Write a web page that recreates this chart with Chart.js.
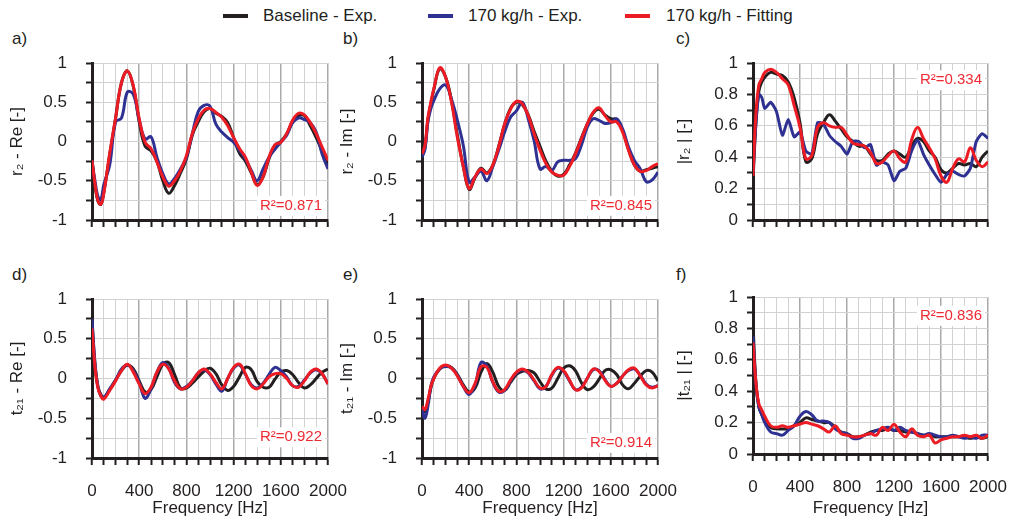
<!DOCTYPE html>
<html><head><meta charset="utf-8">
<script src="https://cdn.jsdelivr.net/npm/chart.js@4.4.1/dist/chart.umd.min.js"></script>
<style>
html,body{margin:0;padding:0;background:#fff;}
body{width:1011px;height:524px;position:relative;overflow:hidden;font-family:'Liberation Sans',Arial,sans-serif;color:#231f20;}
.box{position:absolute;}
.lbl{position:absolute;font-size:17px;line-height:20px;white-space:nowrap;}
.sw{position:absolute;height:4px;width:25px;top:14px;}
</style></head><body>
<div class="sw" style="left:223px;background:#231f20"></div><div class="lbl" style="left:263px;top:6px">Baseline - Exp.</div>
<div class="sw" style="left:428px;background:#2e3192"></div><div class="lbl" style="left:468px;top:6px">170 kg/h - Exp.</div>
<div class="sw" style="left:625px;background:#ed1c24"></div><div class="lbl" style="left:666px;top:6px">170 kg/h - Fitting</div>
<div class="lbl" style="left:12px;top:29px">a)</div>
<div class="lbl" style="left:343px;top:29px">b)</div>
<div class="lbl" style="left:676px;top:29px">c)</div>
<div class="lbl" style="left:12px;top:265px">d)</div>
<div class="lbl" style="left:343px;top:265px">e)</div>
<div class="lbl" style="left:676px;top:265px">f)</div>
<script>
const freq = [0,25,50,75,100,150,200,250,300,350,400,450,500,550,600,650,700,750,800,850,900,950,1000,1050,1100,1150,1200,1250,1300,1350,1400,1450,1500,1550,1600,1650,1700,1750,1800,1850,1900,1950,2000];

// a) r2 - Re
const aBase = [-0.24,-0.55,-0.76,-0.80,-0.65, -0.17,0.30,0.75,0.90,0.70,0.25,-0.06,-0.12,-0.25,-0.50, -0.66,-0.56,-0.40,-0.22,0.08,0.25,0.38,0.42,0.36,0.32, 0.24,0.05,-0.15,-0.25,-0.40,-0.55,-0.45,-0.22,-0.05,0.00, 0.10,0.25,0.33,0.33,0.20,0.05,-0.12,-0.30];
const aExp  = [-0.24,-0.50,-0.70,-0.74,-0.55, -0.30,0.25,0.30,0.63,0.60,0.28,0.03,0.06,-0.20,-0.41, -0.54,-0.47,-0.35,-0.20,0.10,0.38,0.46,0.45,0.22,0.12, 0.05,-0.01,-0.11,-0.22,-0.37,-0.50,-0.35,-0.20,-0.10,-0.01, 0.08,0.24,0.30,0.28,0.24,0.12,-0.16,-0.35];
const aFit  = [-0.24,-0.54,-0.75,-0.80,-0.66, -0.15,0.30,0.75,0.90,0.71,0.29,-0.01,-0.09,-0.26,-0.45, -0.57,-0.50,-0.37,-0.18,0.10,0.29,0.40,0.42,0.37,0.31, 0.20,0.05,-0.09,-0.20,-0.39,-0.56,-0.45,-0.20,-0.04,-0.01, 0.10,0.27,0.36,0.34,0.24,0.10,-0.07,-0.24];

// b) r2 - Im
const bBase = [-0.18,-0.08,0.28,0.48,0.66, 0.93,0.82,0.52,0.08,-0.32,-0.61,-0.46,-0.34,-0.40,-0.30, -0.06,0.22,0.42,0.50,0.47,0.34,0.13,-0.06,-0.25,-0.38, -0.44,-0.42,-0.30,-0.15,0.04,0.22,0.36,0.41,0.34,0.29, 0.28,0.14,-0.10,-0.30,-0.38,-0.36,-0.34,-0.32];
const bExp  = [-0.20,-0.10,0.25,0.42,0.52, 0.67,0.72,0.54,0.27,-0.05,-0.52,-0.45,-0.38,-0.50,-0.32, -0.11,0.12,0.31,0.39,0.50,0.29,0.01,-0.35,-0.32,-0.37, -0.26,-0.24,-0.24,-0.22,-0.05,0.18,0.29,0.27,0.23,0.24, 0.29,0.16,-0.07,-0.24,-0.35,-0.51,-0.49,-0.39];
const bFit  = [-0.16,-0.05,0.30,0.50,0.67, 0.94,0.82,0.50,0.05,-0.32,-0.60,-0.45,-0.35,-0.41,-0.30, -0.07,0.22,0.41,0.51,0.48,0.33,0.10,-0.11,-0.28,-0.39, -0.43,-0.43,-0.32,-0.16,0.03,0.22,0.37,0.43,0.33,0.25, 0.25,0.12,-0.11,-0.30,-0.38,-0.37,-0.32,-0.28];

// c) |r2|
const cBase = [0.25,0.62,0.82,0.88,0.91, 0.94,0.93,0.92,0.88,0.78,0.62,0.37,0.39,0.55,0.62, 0.67,0.63,0.58,0.53,0.50,0.47,0.47,0.42,0.38,0.38, 0.42,0.44,0.42,0.40,0.47,0.52,0.50,0.44,0.40,0.32, 0.30,0.33,0.36,0.35,0.36,0.34,0.40,0.44];
const cExp  = [0.30,0.62,0.80,0.78,0.71, 0.75,0.69,0.54,0.64,0.53,0.56,0.44,0.42,0.62,0.61, 0.54,0.50,0.47,0.42,0.50,0.50,0.46,0.48,0.35,0.37, 0.35,0.25,0.31,0.33,0.44,0.51,0.42,0.35,0.29,0.24, 0.29,0.31,0.29,0.28,0.33,0.50,0.55,0.52];
const cFit  = [0.28,0.68,0.86,0.90,0.94, 0.96,0.94,0.90,0.86,0.73,0.59,0.39,0.41,0.59,0.62, 0.60,0.59,0.59,0.54,0.49,0.48,0.47,0.43,0.36,0.37, 0.41,0.44,0.39,0.37,0.51,0.59,0.52,0.46,0.39,0.28, 0.24,0.33,0.39,0.37,0.46,0.38,0.34,0.37];

// d) t21 - Re
const dBase = [0.72,0.18,-0.10,-0.20,-0.24, -0.14,-0.02,0.10,0.17,0.12,-0.03,-0.17,-0.14,0.02,0.18, 0.20,0.05,-0.12,-0.12,-0.06,0.02,0.09,0.13,0.06,-0.08, -0.15,-0.10,0.02,0.14,0.11,-0.04,-0.11,-0.11,-0.01,0.08, 0.10,0.05,-0.05,-0.12,-0.08,0.00,0.08,0.12];
const dExp  = [0.75,0.20,-0.10,-0.22,-0.24, -0.13,-0.02,0.12,0.17,0.10,-0.05,-0.25,-0.13,0.08,0.20, 0.13,-0.05,-0.13,-0.10,-0.03,0.07,0.11,0.05,-0.07,-0.16, 0.00,0.13,0.17,0.05,-0.08,-0.12,-0.06,0.05,0.14,0.10, 0.02,-0.09,-0.10,-0.02,0.07,0.11,0.06,-0.07];
const dFit  = [0.63,0.15,-0.12,-0.22,-0.26, -0.15,-0.03,0.10,0.18,0.08,-0.07,-0.19,-0.11,0.08,0.18, 0.12,-0.03,-0.13,-0.11,-0.03,0.07,0.12,0.06,-0.05,-0.13, 0.00,0.14,0.18,0.06,-0.09,-0.13,-0.07,0.02,0.06,0.06, 0.00,-0.09,-0.11,-0.03,0.08,0.12,0.06,-0.07];

// e) t21 - Im
const eBase = [-0.36,-0.42,-0.30,-0.12,0.00, 0.12,0.16,0.14,0.05,-0.08,-0.17,-0.12,0.08,0.19,0.08, -0.10,-0.15,-0.05,0.05,0.09,0.10,0.07,-0.04,-0.13,-0.12, 0.00,0.13,0.16,0.10,-0.05,-0.14,-0.11,-0.01,0.10,0.11, 0.05,-0.08,-0.13,-0.06,0.03,0.10,0.08,-0.03];
const eExp  = [-0.38,-0.50,-0.35,-0.10,0.02, 0.12,0.15,0.13,0.04,-0.10,-0.20,-0.08,0.20,0.16,-0.05, -0.17,-0.15,-0.03,0.07,0.11,0.07,-0.03,-0.13,-0.10,0.04, 0.13,0.09,-0.03,-0.14,-0.11,0.00,0.11,0.10,-0.01,-0.10, -0.06,0.03,0.10,0.12,0.04,-0.07,-0.11,-0.09];
const eFit  = [-0.35,-0.39,-0.27,-0.10,0.00, 0.13,0.17,0.13,0.03,-0.10,-0.18,-0.06,0.15,0.14,-0.04, -0.16,-0.14,-0.02,0.08,0.12,0.08,-0.02,-0.12,-0.10,0.05, 0.14,0.10,-0.02,-0.14,-0.12,0.00,0.12,0.09,-0.02,-0.10, -0.06,0.03,0.11,0.13,0.03,-0.08,-0.12,-0.09];

// f) |t21|
const fBase = [0.83,0.45,0.30,0.25,0.22, 0.17,0.16,0.16,0.16,0.18,0.20,0.23,0.22,0.21,0.20, 0.20,0.17,0.14,0.13,0.11,0.11,0.12,0.14,0.15,0.15, 0.16,0.15,0.15,0.14,0.14,0.13,0.12,0.12,0.11,0.11, 0.11,0.11,0.11,0.11,0.10,0.11,0.10,0.11];
const fExp  = [0.75,0.45,0.30,0.25,0.20, 0.14,0.13,0.12,0.15,0.18,0.24,0.27,0.25,0.21,0.21, 0.20,0.16,0.14,0.13,0.10,0.10,0.12,0.13,0.15,0.16, 0.17,0.15,0.17,0.15,0.14,0.13,0.12,0.13,0.12,0.11, 0.11,0.12,0.11,0.10,0.11,0.10,0.12,0.12];
const fFit  = [0.71,0.45,0.32,0.28,0.24, 0.18,0.17,0.18,0.17,0.18,0.19,0.20,0.19,0.18,0.16, 0.14,0.18,0.13,0.12,0.11,0.11,0.12,0.13,0.12,0.17, 0.15,0.19,0.14,0.11,0.16,0.12,0.11,0.12,0.07,0.09, 0.10,0.11,0.11,0.12,0.11,0.12,0.10,0.12];

const r2Values = ['0.871','0.845','0.334','0.922','0.914','0.836'];
const yTitles = ['r\u2082 - Re [-]','r\u2082 - Im [-]','|r\u2082 | [-]','t\u2082\u2081 - Re [-]','t\u2082\u2081 - Im [-]','|t\u2082\u2081 | [-]'];
const xTitle = 'Frequency [Hz]';

const FONT = "'Liberation Sans', Arial, sans-serif";
const TXT = '#231f20', BLACK = '#231f20', BLUE = '#2e3192', RED = '#ed1c24', RTXT = '#ee2a33';
const G1 = '#d2d2d2', G2 = '#aaaaaa';

const r2Plugin = {
  id: 'r2label',
  beforeDatasetsDraw(chart, args, opts) {
    if (!opts.text) return;
    const {ctx, chartArea, scales} = chart;
    ctx.save();
    ctx.font = '15px ' + FONT;
    const w = ctx.measureText(opts.text).width;
    const yy = scales.y.getPixelForValue(opts.at);
    const xr = chartArea.right - 6;
    ctx.fillStyle = '#fff';
    ctx.fillRect(xr - w - 3, yy - 10, w + 6, 20);
    ctx.fillStyle = RTXT; ctx.textAlign = 'right'; ctx.textBaseline = 'middle';
    ctx.fillText(opts.text, xr, yy);
    ctx.restore();
  }
};

const panels = [
  {box:[0,50,345,190],   area:{L:92,T:63,R:328,B:220},  y:[-1,1,0.25], sets:[aBase,aExp,aFit], r2at:-0.82, xl:false, pad:19},
  {box:[330,50,345,190], area:{L:422,T:63,R:658,B:220}, y:[-1,1,0.25], sets:[bBase,bExp,bFit], r2at:-0.82, xl:false, pad:19},
  {box:[667,50,340,190], area:{L:753,T:63,R:988,B:220}, y:[0,1,0.1],   sets:[cBase,cExp,cFit], r2at:0.89,  xl:false, pad:9},
  {box:[0,285,350,239],  area:{L:92,T:299,R:328,B:458}, y:[-1,1,0.25], sets:[dBase,dExp,dFit], r2at:-0.74, xl:true, pad:19},
  {box:[330,285,350,239],area:{L:422,T:299,R:658,B:458},y:[-1,1,0.25], sets:[eBase,eExp,eFit], r2at:-0.81, xl:true, pad:19},
  {box:[667,285,344,239],area:{L:753,T:297,R:988,B:454},y:[0,1,0.1],   sets:[fBase,fExp,fFit], r2at:0.88,  xl:true, pad:9}
];

function pts(arr){ return freq.map((f,i)=>({x:f, y:arr[i]})); }

panels.forEach((p, k) => {
  const [bx,by,bw,bh] = p.box;
  const div = document.createElement('div');
  div.className = 'box';
  div.style.left = bx+'px'; div.style.top = by+'px'; div.style.width = bw+'px'; div.style.height = bh+'px';
  const cv = document.createElement('canvas');
  cv.width = bw; cv.height = bh; cv.style.width = bw+'px'; cv.style.height = bh+'px';
  div.appendChild(cv); document.body.appendChild(div);
  const yW = p.area.L - bx, xH = by + bh - p.area.B;
  const half = p.y[2] === 0.25;
  new Chart(cv, {
    type: 'line',
    data: { datasets: [
      {label:'170 kg/h - Fitting', data:pts(p.sets[2]), borderColor:RED, order:0, borderWidth:3, tension:0.4},
      {label:'170 kg/h - Exp.', data:pts(p.sets[1]), borderColor:BLUE, order:1, borderWidth:3, tension: k===2?0.2:0.4},
      {label:'Baseline - Exp.', data:pts(p.sets[0]), borderColor:BLACK, order:2, borderWidth:3, tension:0.4}
    ]},
    options: {
      responsive:false, animation:false, maintainAspectRatio:false,
      layout:{padding:{top:p.area.T-by, right:bx+bw-p.area.R, left:0, bottom:0}},
      elements:{point:{radius:0}},
      plugins:{legend:{display:false}, tooltip:{enabled:false}, r2label:{text:'R\u00b2=' + r2Values[k], at:p.r2at}},
      scales:{
        x:{type:'linear', min:0, max:2000,
          afterFit(s){ s.height = xH; s.paddingLeft = 0; s.paddingRight = 0; },
          ticks:{stepSize:100, autoSkip:false, maxRotation:0, minRotation:0, padding:16, color:TXT, font:{size:17, family:FONT},
            callback:(v)=> (p.xl && v % 400 === 0) ? String(v) : ''},
          grid:{color:(c)=> (c.tick && c.tick.value % 400 === 0) ? G2 : G1, lineWidth:(c)=> (c.tick && c.tick.value % 400 === 0) ? 1.5 : 1,
            tickColor:BLACK, tickWidth:2, tickLength:7},
          border:{color:BLACK, width:3},
          title:{display:p.xl, text:xTitle, color:TXT, font:{size:17, family:FONT}, padding:{top:0, bottom:5}}
        },
        y:{type:'linear', min:p.y[0], max:p.y[1],
          afterFit(s){ s.width = yW; s.paddingTop = 0; s.paddingBottom = 0; },
          ticks:{stepSize:p.y[2], autoSkip:false, padding:p.pad, color:TXT, font:{size:17, family:FONT},
            callback:(v)=> {
              if (half) return (Math.abs(v*2 - Math.round(v*2)) < 1e-9) ? String(v) : '';
              const t = Math.round(v*10);
              return t % 2 === 0 ? String(t/10) : '';
            }},
          grid:{color:G1, lineWidth:1, tickColor:BLACK, tickWidth:2, tickLength:6},
          border:{color:BLACK, width:3},
          title:{display:true, text:yTitles[k], color:TXT, font:{size:17, family:FONT}, padding:{top:7, bottom:0}}
        }
      }
    },
    plugins:[r2Plugin]
  });
});
</script>
</body></html>
